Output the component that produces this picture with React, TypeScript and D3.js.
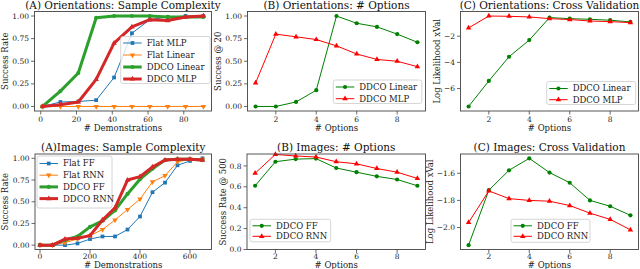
import React from "react";
import * as d3 from "d3";

// ---- data ----
const demoOrient = [1, 11, 21, 31, 41, 51, 61, 71, 81, 91];
const flatMlpOrient = [0, 0.05, 0.055, 0.07, 0.32, 0.81, 0.96, 0.99, 1.0, 1.0];
const flatLinearOrient = [0, 0, 0, 0, 0, 0, 0, 0, 0, 0];
const ddcoLinearOrient = [0, 0.17, 0.37, 0.98, 1.0, 1.0, 1.0, 0.99, 0.99, 0.99];
const ddcoMlpOrient = [0, 0.02, 0.05, 0.3, 0.7, 0.88, 0.96, 0.95, 0.99, 1.0];

const options = [1, 2, 3, 4, 5, 6, 7, 8, 9];
const ddcoLinearAt20 = [0, 0, 0.05, 0.18, 1.0, 0.92, 0.88, 0.8, 0.71];
const ddcoMlpAt20 = [0.26, 0.8, 0.77, 0.74, 0.67, 0.58, 0.52, 0.5, 0.44];
const ddcoLinearXval = [-7.37, -5.42, -3.57, -2.3, -0.58, -0.66, -0.71, -0.78, -0.91];
const ddcoMlpXval = [-1.37, -0.46, -0.48, -0.53, -0.66, -0.73, -0.84, -0.89, -0.96];

const demoImages = [0, 50, 100, 150, 200, 250, 300, 350, 400, 450, 500, 550, 600, 650];
const flatFF = [0, 0, 0, 0.02, 0.07, 0.1, 0.1, 0.18, 0.33, 0.61, 0.72, 0.92, 0.97, 1.0];
const flatRNN = [0, 0, 0.03, 0.07, 0.11, 0.18, 0.29, 0.41, 0.53, 0.73, 0.8, 0.96, 0.99, 0.99];
const ddcoFF = [0, 0, 0.06, 0.1, 0.21, 0.28, 0.4, 0.59, 0.76, 0.88, 0.98, 0.99, 0.99, 0.98];
const ddcoRNN = [0, 0, 0.07, 0.08, 0.11, 0.29, 0.43, 0.75, 0.79, 0.9, 0.98, 0.99, 0.99, 0.98];

const ddcoFFAt500 = [0.61, 0.84, 0.865, 0.87, 0.78, 0.74, 0.7, 0.67, 0.61];
const ddcoRNNAt500 = [0.73, 0.91, 0.895, 0.885, 0.84, 0.82, 0.775, 0.74, 0.68];
const ddcoFFXval = [-2.13, -1.725, -1.578, -1.49, -1.595, -1.67, -1.8, -1.843, -1.91];
const ddcoRNNXval = [-1.963, -1.73, -1.787, -1.8, -1.806, -1.838, -1.894, -1.94, -2.017];

const FONT = "DejaVu Serif";
const SPINE = "#444";

type Marker = "circle" | "square" | "tri" | "triDown";
type Series = { name: string; x: number[]; y: number[]; color: string; lw: number; marker: Marker };

function Mark({ m, x, y, color }: { m: Marker; x: number; y: number; color: string }) {
  if (m === "circle") return <circle cx={x} cy={y} r={2.1} fill={color} />;
  const type = m === "square" ? d3.symbolSquare : d3.symbolTriangle;
  const size = m === "square" ? 14 : 13;
  const rot = m === "triDown" ? 180 : 0;
  return <path d={d3.symbol(type, size)()!} fill={color} transform={`translate(${x},${y}) rotate(${rot})`} />;
}

function Panel(props: any) {
  const { box, xDomain, yDomain, xTicks, yTicks, yFmt, title, titleY, xLabel, xLabelY, tickY, yLabel, yLabelX, series, legend } = props;
  const x = d3.scaleLinear().domain(xDomain).range([box.l, box.r]);
  const y = d3.scaleLinear().domain(yDomain).range([box.b, box.t]);
  const line = d3.line<[number, number]>().x(d => x(d[0])).y(d => y(d[1]));
  const cx = (box.l + box.r) / 2;
  const cy = (box.t + box.b) / 2;
  return (
    <g fontFamily={FONT}>
      {series.map((s: Series) => {
        const pts = s.x.map((v, i) => [v, s.y[i]] as [number, number]);
        return (
          <g key={s.name}>
            <path d={line(pts)!} fill="none" stroke={s.color} strokeWidth={s.lw} strokeLinejoin="round" />
            {pts.map((p, i) => <Mark key={i} m={s.marker} x={x(p[0])} y={y(p[1])} color={s.color} />)}
          </g>
        );
      })}
      <rect x={box.l} y={box.t} width={box.r - box.l} height={box.b - box.t} fill="none" stroke={SPINE} strokeWidth={0.9} />
      {xTicks.map((t: number) => (
        <g key={"x" + t}>
          <line x1={x(t)} x2={x(t)} y1={box.b} y2={box.b + 3.5} stroke={SPINE} strokeWidth={0.8} />
          <text x={x(t)} y={tickY} fontSize={7.5} textAnchor="middle" fill="#222">{t}</text>
        </g>
      ))}
      {yTicks.map((t: number) => (
        <g key={"y" + t}>
          <line x1={box.l - 3.5} x2={box.l} y1={y(t)} y2={y(t)} stroke={SPINE} strokeWidth={0.8} />
          <text x={box.l - 5.5} y={y(t)} dy="0.35em" fontSize={7.5} textAnchor="end" fill="#222">
            {yFmt(t).replace("-", "\u2212")}
          </text>
        </g>
      ))}
      <text x={cx} y={titleY} fontSize={10.5} textAnchor="middle" fill="#111">{title}</text>
      <text x={cx} y={xLabelY} fontSize={8.5} textAnchor="middle" fill="#222">{xLabel}</text>
      <text transform={`translate(${yLabelX},${cy}) rotate(-90)`} dy="0.35em" fontSize={8.5} textAnchor="middle" fill="#222">
        {yLabel}
      </text>
      <g>
        <rect x={legend.x} y={legend.y} width={legend.w} height={legend.h} rx={2} fill="white" fillOpacity={0.8} stroke="#ccc" strokeWidth={0.8} />
        {series.map((s: Series, i: number) => {
          const ry = legend.y + legend.off + i * legend.step;
          return (
            <g key={"l" + s.name}>
              <line x1={legend.x + 2.5} x2={legend.x + 21} y1={ry} y2={ry} stroke={s.color} strokeWidth={s.lw} />
              <Mark m={s.marker} x={legend.x + 11.75} y={ry} color={s.color} />
              <text x={legend.x + 26} y={ry} dy="0.35em" fontSize={8.5} fill="#222">{s.name}</text>
            </g>
          );
        })}
      </g>
    </g>
  );
}

const f2 = d3.format(".2f");
const f1 = d3.format(".1f");
const f0 = d3.format("d");

export default function App() {
  const topBox = (l: number, r: number) => ({ l, r, t: 11.5, b: 111 });
  const botBox = (l: number, r: number) => ({ l, r, t: 154, b: 249.5 });
  const top = { titleY: 8.5, xLabelY: 131, tickY: 122 };
  const bot = { titleY: 150.5, xLabelY: 268, tickY: 259 };
  return (
    <svg width={640} height={269} style={{ position: "absolute", left: 0, top: 0, background: "white" }}>
      <Panel
        {...top}
        box={topBox(34.5, 211.5)} xDomain={[-3.5, 95.5]} yDomain={[-0.05, 1.05]}
        xTicks={[0, 20, 40, 60, 80]} yTicks={[0, 0.25, 0.5, 0.75, 1]} yFmt={f2}
        title="(A) Orientations: Sample Complexity"
        xLabel="# Demonstrations" yLabel="Success Rate" yLabelX={5}
        series={[
          { name: "Flat MLP", x: demoOrient, y: flatMlpOrient, color: "#1f77b4", lw: 1, marker: "square" },
          { name: "Flat Linear", x: demoOrient, y: flatLinearOrient, color: "#ff7f0e", lw: 1, marker: "triDown" },
          { name: "DDCO Linear", x: demoOrient, y: ddcoLinearOrient, color: "#2ca02c", lw: 3, marker: "circle" },
          { name: "DDCO MLP", x: demoOrient, y: ddcoMlpOrient, color: "#d62728", lw: 3, marker: "tri" },
        ]}
        legend={{ x: 120.7, y: 36.5, w: 89.5, h: 47, off: 6.5, step: 12 }}
      />
      <Panel
        {...top}
        box={topBox(247.5, 425.5)} xDomain={[0.6, 9.4]} yDomain={[-0.05, 1.05]}
        xTicks={[2, 4, 6, 8]} yTicks={[0, 0.25, 0.5, 0.75, 1]} yFmt={f2}
        title="(B) Orientations: # Options"
        xLabel="# Options" yLabel="Success @ 20" yLabelX={218}
        series={[
          { name: "DDCO Linear", x: options, y: ddcoLinearAt20, color: "#008000", lw: 1, marker: "circle" },
          { name: "DDCO MLP", x: options, y: ddcoMlpAt20, color: "#ff0000", lw: 1, marker: "tri" },
        ]}
        legend={{ x: 333.3, y: 80, w: 88.5, h: 23.5, off: 7, step: 11.7 }}
      />
      <Panel
        {...top}
        box={topBox(460.5, 638.5)} xDomain={[0.6, 9.4]} yDomain={[-7.7155, -0.1145]}
        xTicks={[2, 4, 6, 8]} yTicks={[-6, -4, -2]} yFmt={f0}
        title="(C) Orientations: Cross Validation"
        xLabel="# Options" yLabel="Log Likelihood xVal" yLabelX={436.7}
        series={[
          { name: "DDCO Linear", x: options, y: ddcoLinearXval, color: "#008000", lw: 1, marker: "circle" },
          { name: "DDCO MLP", x: options, y: ddcoMlpXval, color: "#ff0000", lw: 1, marker: "tri" },
        ]}
        legend={{ x: 546.7, y: 81.5, w: 89, h: 23, off: 7, step: 11.2 }}
      />
      <Panel
        {...bot}
        box={botBox(35, 211.5)} xDomain={[-20, 686]} yDomain={[-0.05, 1.05]}
        xTicks={[0, 200, 400, 600]} yTicks={[0, 0.25, 0.5, 0.75, 1]} yFmt={f2}
        title="(A)Images: Sample Complexity"
        xLabel="# Demonstrations" yLabel="Success Rate" yLabelX={5}
        series={[
          { name: "Flat FF", x: demoImages, y: flatFF, color: "#1f77b4", lw: 1, marker: "square" },
          { name: "Flat RNN", x: demoImages, y: flatRNN, color: "#ff7f0e", lw: 1, marker: "triDown" },
          { name: "DDCO FF", x: demoImages, y: ddcoFF, color: "#2ca02c", lw: 3, marker: "circle" },
          { name: "DDCO RNN", x: demoImages, y: ddcoRNN, color: "#d62728", lw: 3, marker: "tri" },
        ]}
        legend={{ x: 37, y: 156, w: 75, h: 52, off: 7.5, step: 11.7 }}
      />
      <Panel
        {...bot}
        box={botBox(247, 425.5)} xDomain={[0.6, 9.4]} yDomain={[0, 0.914]}
        xTicks={[2, 4, 6, 8]} yTicks={[0, 0.2, 0.4, 0.6, 0.8]} yFmt={f1}
        title="(B) Images: # Options"
        xLabel="# Options" yLabel="Success Rate @ 500" yLabelX={222.7}
        series={[
          { name: "DDCO FF", x: options, y: ddcoFFAt500, color: "#008000", lw: 1, marker: "circle" },
          { name: "DDCO RNN", x: options, y: ddcoRNNAt500, color: "#ff0000", lw: 1, marker: "tri" },
        ]}
        legend={{ x: 250, y: 219.3, w: 80.7, h: 22.5, off: 6.5, step: 10.5 }}
      />
      <Panel
        {...bot}
        box={botBox(460.5, 638.5)} xDomain={[0.6, 9.4]} yDomain={[-2.162, -1.458]}
        xTicks={[2, 4, 6, 8]} yTicks={[-2.0, -1.8, -1.6]} yFmt={f1}
        title="(C) Images: Cross Validation"
        xLabel="# Options" yLabel="Log Likelihood xVal" yLabelX={430}
        series={[
          { name: "DDCO FF", x: options, y: ddcoFFXval, color: "#008000", lw: 1, marker: "circle" },
          { name: "DDCO RNN", x: options, y: ddcoRNNXval, color: "#ff0000", lw: 1, marker: "tri" },
        ]}
        legend={{ x: 511, y: 219.3, w: 79, h: 23, off: 6.5, step: 10.5 }}
      />
    </svg>
  );
}
